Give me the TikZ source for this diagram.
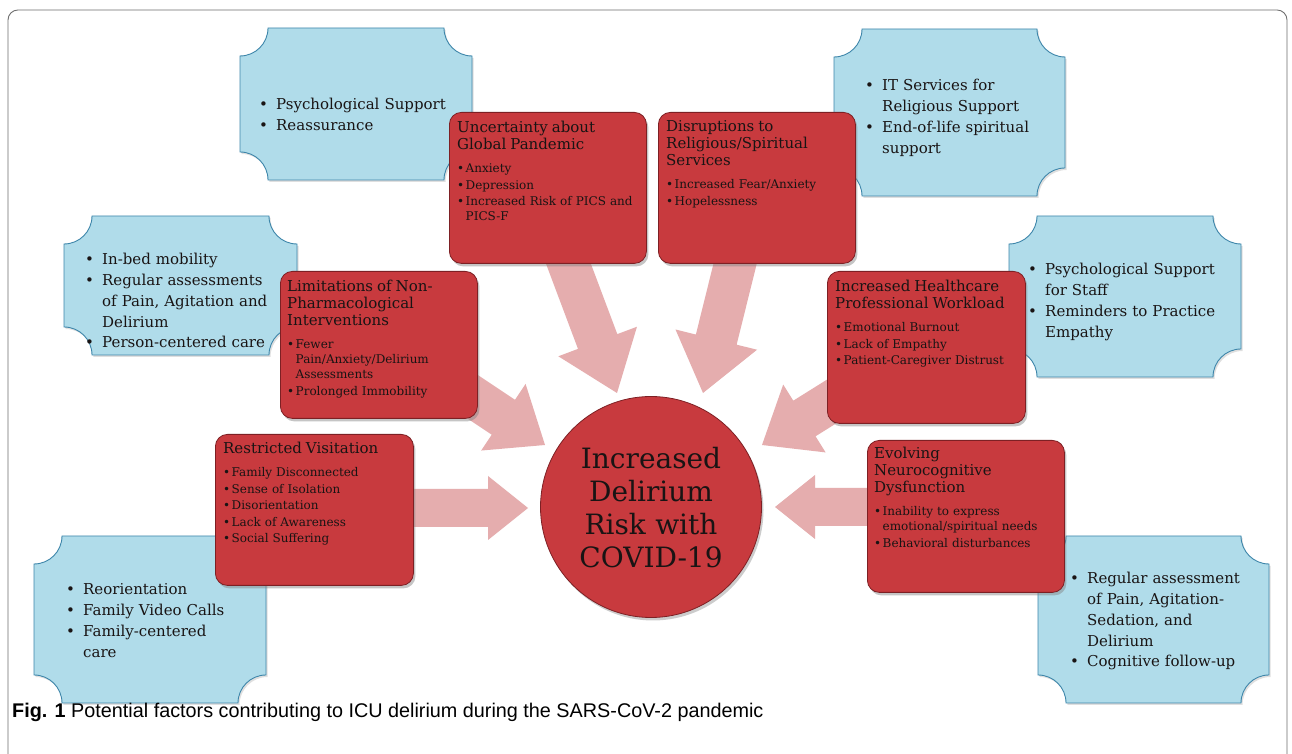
\documentclass[tikz,border=0pt]{standalone}
\usepackage{fontspec}
\setmainfont{DejaVu Serif}
\newfontfamily\capfont{Liberation Sans}
\usetikzlibrary{calc,shadows}
\setlength{\parindent}{0pt}
\definecolor{bfill}{RGB}{176,220,234}
\definecolor{bedge}{RGB}{62,134,170}
\definecolor{rfill}{RGB}{200,58,62}
\definecolor{redge}{RGB}{125,32,36}
\definecolor{apink}{RGB}{229,173,174}
\definecolor{txt}{RGB}{25,20,20}
\definecolor{framegray}{RGB}{110,110,110}
\def\lastpd{0pt}
\newcommand\stackbox[2]{\parbox[t]{#1}{#2\par\xdef\lastpd{\the\prevdepth}}}
\newcommand\blitem[1]{\noindent\makebox[17pt][l]{\textbullet}\stackbox{210pt}{#1}\par\prevdepth=\lastpd\relax}
\newcommand\rditem[1]{\vspace{1.5pt}\noindent\makebox[8.5pt][l]{\textbullet}\stackbox{180pt}{#1}\par\prevdepth=\lastpd\relax}
\newcommand\rdtitle[1]{{\fontsize{15}{17}\selectfont\noindent\stackbox{188pt}{#1}\par}\prevdepth=\lastpd\relax\vspace{6.5pt}}
\newcommand\blueplaque[5]{%
  \draw[bshape] ({#2+28},#3) -- ({#4-28},#3) arc[start angle=180,end angle=270,radius=28pt]
   -- (#4,{#5+28}) arc[start angle=90,end angle=180,radius=28pt]
   -- ({#2+28},#5) arc[start angle=0,end angle=90,radius=28pt]
   -- (#2,{#3-28}) arc[start angle=-90,end angle=0,radius=28pt] -- cycle;
  \coordinate (#1) at ({(#2+#4)/2},{(#3+#5)/2});}
\newcommand\blockarr[6]{%
  \coordinate (#1h) at ($(#3)!#6!(#2)$);
  \fill[arrfill] ($(#2)!#4!90:(#3)$) -- ($(#1h)!#4!90:(#3)$) -- ($(#1h)!#5!90:(#3)$) -- (#3)
    -- ($(#1h)!#5!-90:(#3)$) -- ($(#1h)!#4!-90:(#3)$) -- ($(#2)!#4!-90:(#3)$) -- cycle;}
\tikzset{
  bshape/.style={fill=bfill, draw=bedge, line width=0.9pt,
     drop shadow={shadow xshift=1.5pt, shadow yshift=-2pt, opacity=0.25}},
  redbox/.style={rectangle, rounded corners=12pt, fill=rfill, draw=redge, line width=0.8pt,
     anchor=north west, inner sep=0pt,
     drop shadow={shadow xshift=2pt, shadow yshift=-3pt, opacity=0.45}},
  arrfill/.style={fill=apink},
  btext/.style={anchor=base west, inner sep=0pt, text width=230pt, text=txt,
     font=\fontsize{15}{20.7}\selectfont},
  rtext/.style={anchor=base west, inner sep=0pt, text width=190pt, text=txt,
     font=\fontsize{12}{15}\selectfont},
}
\begin{document}
\begin{tikzpicture}[x=1pt,y=1pt]
\useasboundingbox (0,0) rectangle (1292,754);
\fill[white] (0,0) rectangle (1292,754);
\draw[framegray, line width=0.9pt, rounded corners=10pt] (8,-40) -- (8,744) -- (1287,744) -- (1287,-40);

% blue plaques
\blueplaque{b1}{240}{726}{472}{574}
\blueplaque{b2}{834}{725}{1065}{558}
\blueplaque{b3}{64}{538}{297}{399}
\blueplaque{b4}{1009}{538}{1241}{377}
\blueplaque{b5}{34}{218}{266}{51}
\blueplaque{b6}{1038}{218}{1269}{51}

% arrows
\coordinate (a1s) at (561,510); \coordinate (a1t) at (617,361);
\coordinate (a2s) at (740,510); \coordinate (a2t) at (703,361);
\coordinate (a3s) at (455,369); \coordinate (a3t) at (545,309);
\coordinate (a4s) at (850,364); \coordinate (a4t) at (762,309);
\coordinate (a5s) at (400,246); \coordinate (a5t) at (528,246);
\coordinate (a6s) at (880,247); \coordinate (a6t) at (775,247);
\blockarr{a1}{a1s}{a1t}{21pt}{42pt}{55pt}
\blockarr{a2}{a2s}{a2t}{21pt}{42pt}{55pt}
\blockarr{a3}{a3s}{a3t}{21pt}{40pt}{50pt}
\blockarr{a4}{a4s}{a4t}{21pt}{40pt}{50pt}
\blockarr{a5}{a5s}{a5t}{19pt}{32pt}{40pt}
\blockarr{a6}{a6s}{a6t}{19pt}{32pt}{40pt}

% red boxes
\node[redbox, minimum width=197pt, minimum height=151pt] (r1) at (449,642) {};
\node[redbox, minimum width=197pt, minimum height=151pt] (r2) at (658,642) {};
\node[redbox, minimum width=197pt, minimum height=147pt] (r3) at (280,483) {};
\node[redbox, minimum width=198pt, minimum height=152pt] (r4) at (827,483) {};
\node[redbox, minimum width=198pt, minimum height=151pt] (r5) at (215,320) {};
\node[redbox, minimum width=197pt, minimum height=152pt] (r6) at (867,314) {};

% circle
\node[circle, minimum size=221pt, inner sep=0pt, fill=rfill, draw=redge, line width=0.8pt,
  drop shadow={shadow xshift=2pt, shadow yshift=-3pt, opacity=0.4}] (c) at (651,247) {};
\node[anchor=base, inner sep=0pt, text width=210pt, align=center, text=txt,
  font=\fontsize{28}{33}\selectfont] (ct) at (651,285) {Increased\\Delirium\\Risk with\\COVID-19};

% blue texts
\node[btext] (t1) at (259,644) {\blitem{Psychological Support}\blitem{Reassurance}};
\node[btext] (t2) at (865,663) {\blitem{IT Services for\\Religious Support}\blitem{End-of-life spiritual\\support}};
\node[btext] (t3) at (85,489) {\blitem{In-bed mobility}\blitem{Regular assessments\\of Pain, Agitation and\\Delirium}\blitem{Person-centered care}};
\node[btext] (t4) at (1028,479) {\blitem{Psychological Support\\for Staff}\blitem{Reminders to Practice\\Empathy}};
\node[btext] (t5) at (66,159) {\blitem{Reorientation}\blitem{Family Video Calls}\blitem{Family-centered\\care}};
\node[btext] (t6) at (1070,170) {\blitem{Regular assessment\\of Pain, Agitation-\\Sedation, and\\Delirium}\blitem{Cognitive follow-up}};

% red texts
\node[rtext] (s1) at (457,621) {\rdtitle{Uncertainty about\\Global Pandemic}\rditem{Anxiety}\rditem{Depression}\rditem{Increased Risk of PICS and\\PICS-F}};
\node[rtext] (s2) at (666,622) {\rdtitle{Disruptions to\\Religious/Spiritual\\Services}\rditem{Increased Fear/Anxiety}\rditem{Hopelessness}};
\node[rtext] (s3) at (287,462) {\rdtitle{Limitations of Non-\\Pharmacological\\Interventions}\rditem{Fewer\\Pain/Anxiety/Delirium\\Assessments}\rditem{Prolonged Immobility}};
\node[rtext] (s4) at (835,462) {\rdtitle{Increased Healthcare\\Professional Workload}\rditem{Emotional Burnout}\rditem{Lack of Empathy}\rditem{Patient-Caregiver Distrust}};
\node[rtext] (s5) at (223,300) {\rdtitle{Restricted Visitation}\rditem{Family Disconnected}\rditem{Sense of Isolation}\rditem{Disorientation}\rditem{Lack of Awareness}\rditem{Social Suffering}};
\node[rtext] (s6) at (874,295) {\rdtitle{Evolving\\Neurocognitive\\Dysfunction}\rditem{Inability to express\\emotional/spiritual needs}\rditem{Behavioral disturbances}};

% caption
\node[anchor=base west, inner sep=0pt, text=black, font=\capfont\fontsize{19.8}{22}\selectfont] (cap) at (12,36)
  {\textbf{Fig. 1} Potential factors contributing to ICU delirium during the SARS-CoV-2 pandemic};
\end{tikzpicture}
\end{document}
